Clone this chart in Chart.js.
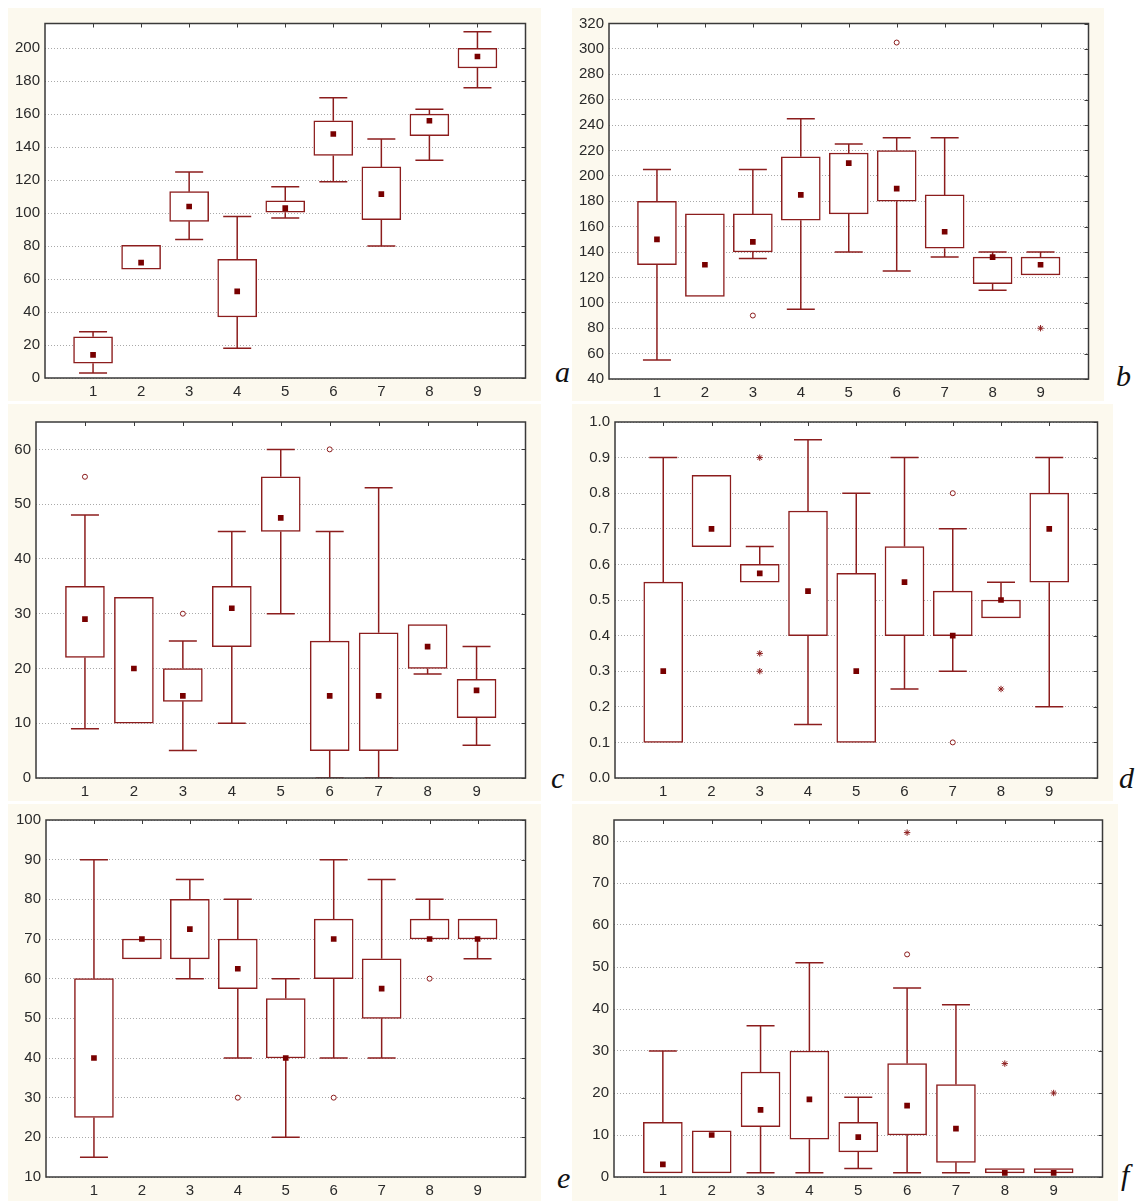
<!DOCTYPE html>
<html>
<head>
<meta charset="utf-8">
<script src="https://cdn.jsdelivr.net/npm/chart.js@4.4.1/dist/chart.umd.min.js"></script>
<style>
  body { margin: 0; background: #fff; width: 1140px; height: 1201px; position: relative; overflow: hidden; }
  .panel { position: absolute; background: #fcf9ee; }
  .panel canvas { display: block; }
  .letter { position: absolute; font-family: "Liberation Serif", "Times New Roman", serif; font-style: italic; font-size: 30px; line-height: 30px; color: #111; }
</style>
</head>
<body>

<div class="letter" style="left:555px;top:357px">a</div>
<div class="letter" style="left:1116px;top:361px">b</div>
<div class="letter" style="left:551px;top:763px">c</div>
<div class="letter" style="left:1119px;top:763px">d</div>
<div class="letter" style="left:557px;top:1163px">e</div>
<div class="letter" style="left:1121px;top:1160px">f</div>

<script>
// groups on the x axis
const groups = [1, 2, 3, 4, 5, 6, 7, 8, 9];

// panel a
const aQ1 = [9, 66, 95, 37, 100.5, 135, 96, 147, 188];
const aQ3 = [25, 80.5, 113, 72, 107.5, 156, 128, 160, 200];
const aMean = [14, 70, 104, 52.5, 103, 148, 111.5, 156, 195];
const aMin = [3, null, 84, 18, 97, 119, 80, 132, 176];
const aMax = [28, null, 125, 98, 116, 170, 145, 163, 210];
const aOutliers = [];
const aExtremes = [];

// panel b
const bQ1 = [130, 105, 140, 165, 170, 180, 143, 115, 122];
const bQ3 = [180, 170, 170, 215, 218, 220, 185, 136, 136];
const bMean = [150, 130, 148, 185, 210, 190, 156, 136, 130];
const bMin = [55, null, 135, 95, 140, 125, 136, 110, null];
const bMax = [205, null, 205, 245, 225, 230, 230, 140, 140];
const bOutliers = [[3, 90], [6, 305]];
const bExtremes = [[9, 80]];

// panel c
const cQ1 = [22, 10, 14, 24, 45, 5, 5, 20, 11];
const cQ3 = [35, 33, 20, 35, 55, 25, 26.5, 28, 18];
const cMean = [29, 20, 15, 31, 47.5, 15, 15, 24, 16];
const cMin = [9, null, 5, 10, 30, 0, 0, 19, 6];
const cMax = [48, null, 25, 45, 60, 45, 53, null, 24];
const cOutliers = [[1, 55], [3, 30], [6, 60]];
const cExtremes = [];

// panel d
const dQ1 = [0.1, 0.65, 0.55, 0.4, 0.1, 0.4, 0.4, 0.45, 0.55];
const dQ3 = [0.55, 0.85, 0.6, 0.75, 0.575, 0.65, 0.525, 0.5, 0.8];
const dMean = [0.3, 0.7, 0.575, 0.525, 0.3, 0.55, 0.4, 0.5, 0.7];
const dMin = [null, null, null, 0.15, null, 0.25, 0.3, null, 0.2];
const dMax = [0.9, null, 0.65, 0.95, 0.8, 0.9, 0.7, 0.55, 0.9];
const dOutliers = [[7, 0.8], [7, 0.1]];
const dExtremes = [[3, 0.9], [3, 0.35], [3, 0.3], [8, 0.25]];

// panel e
const eQ1 = [25, 65, 65, 57.5, 40, 60, 50, 70, 70];
const eQ3 = [60, 70, 80, 70, 55, 75, 65, 75, 75];
const eMean = [40, 70, 72.5, 62.5, 40, 70, 57.5, 70, 70];
const eMin = [15, null, 60, 40, 20, 40, 40, null, 65];
const eMax = [90, null, 85, 80, 60, 90, 85, 80, null];
const eOutliers = [[4, 30], [6, 30], [8, 60]];
const eExtremes = [];

// panel f
const fQ1 = [1, 1, 12, 9, 6, 10, 3.5, 1, 1];
const fQ3 = [13, 11, 25, 30, 13, 27, 22, 2, 2];
const fMean = [3, 10, 16, 18.5, 9.5, 17, 11.5, 1, 1];
const fMin = [null, null, 1, 1, 2, 1, 1, null, null];
const fMax = [30, null, 36, 51, 19, 45, 41, null, null];
const fOutliers = [[6, 53]];
const fExtremes = [[6, 82], [8, 27], [9, 20]];

const boxColor = "#8c1d1d";
const meanColor = "#780000";
const textColor = "#2a2a2a";
const tickFont = { family: "'Liberation Sans', Arial, sans-serif", size: 15 };

// white plot area, frame and the inward ticks on top and right
const framePlugin = {
  id: "frame",
  beforeDraw(chart) {
    const a = chart.chartArea;
    const ctx = chart.ctx;
    ctx.save();
    ctx.fillStyle = "#fff";
    ctx.fillRect(a.left, a.top, a.right - a.left, a.bottom - a.top);
    ctx.restore();
  },
  afterDraw(chart) {
    const a = chart.chartArea;
    const ctx = chart.ctx;
    const xs = chart.scales.x;
    const ys = chart.scales.y;
    ctx.save();
    ctx.strokeStyle = "#3a3a3a";
    ctx.lineWidth = 1.5;
    ctx.strokeRect(a.left, a.top, a.right - a.left, a.bottom - a.top);
    ctx.lineWidth = 1;
    ctx.beginPath();
    groups.forEach((g) => {
      const px = Math.round(xs.getPixelForValue(g)) + 0.5;
      ctx.moveTo(px, a.top);
      ctx.lineTo(px, a.top + 4);
    });
    ys.ticks.forEach((t) => {
      const py = Math.round(ys.getPixelForValue(t.value)) + 0.5;
      ctx.moveTo(a.right, py);
      ctx.lineTo(a.right - 4, py);
    });
    ctx.stroke();
    ctx.restore();
  },
};

function stemPoints(q1, q3, lo, hi) {
  let pts = [];
  groups.forEach((g, i) => {
    if (hi[i] != null) pts.push({ x: g, y: q3[i] }, { x: g, y: hi[i] }, { x: g, y: null });
    if (lo[i] != null) pts.push({ x: g, y: lo[i] }, { x: g, y: q1[i] }, { x: g, y: null });
  });
  return pts;
}

function capPoints(lo, hi) {
  let pts = [];
  groups.forEach((g, i) => {
    if (hi[i] != null) pts.push({ x: g, y: hi[i] });
    if (lo[i] != null) pts.push({ x: g, y: lo[i] });
  });
  return pts;
}

function makePanel(p) {
  const div = document.createElement("div");
  div.className = "panel";
  div.style.left = p.cream.l + "px";
  div.style.top = p.cream.t + "px";
  const canvas = document.createElement("canvas");
  const w = p.cream.r - p.cream.l;
  const h = p.cream.b - p.cream.t;
  canvas.width = w;
  canvas.height = h;
  canvas.style.width = w + "px";
  canvas.style.height = h + "px";
  div.appendChild(canvas);
  document.body.appendChild(div);

  new Chart(canvas, {
    type: "bar",
    data: {
      datasets: [
        {
          type: "scatter",
          data: groups.map((g, i) => ({ x: g, y: p.mean[i] })),
          pointStyle: "rect",
          pointRadius: 4,
          backgroundColor: meanColor,
          borderWidth: 0,
          order: 0,
        },
        {
          type: "scatter",
          data: p.outliers.map((o) => ({ x: o[0], y: o[1] })),
          pointStyle: "circle",
          pointRadius: 2.5,
          backgroundColor: "#fff",
          borderColor: boxColor,
          borderWidth: 1,
          order: 1,
        },
        {
          type: "scatter",
          data: p.extremes.map((o) => ({ x: o[0], y: o[1] })),
          pointStyle: "star",
          pointRadius: 3.2,
          borderColor: boxColor,
          borderWidth: 1,
          order: 1,
        },
        {
          type: "bar",
          data: groups.map((g, i) => ({ x: g, y: [p.q1[i], p.q3[i]] })),
          backgroundColor: "#fff",
          borderColor: boxColor,
          borderWidth: 1.5,
          borderSkipped: false,
          barThickness: 39,
          order: 2,
        },
        {
          type: "scatter",
          data: capPoints(p.min, p.max),
          pointStyle: "line",
          pointRadius: 14,
          borderColor: boxColor,
          borderWidth: 1.5,
          order: 3,
        },
        {
          type: "line",
          data: stemPoints(p.q1, p.q3, p.min, p.max),
          borderColor: boxColor,
          borderWidth: 1.5,
          pointRadius: 0,
          spanGaps: false,
          order: 4,
        },
      ],
    },
    options: {
      responsive: false,
      animation: false,
      events: [],
      layout: {
        padding: { top: p.plot.t - p.cream.t, right: p.cream.r - p.plot.r, left: 0, bottom: 0 },
      },
      plugins: { legend: { display: false }, tooltip: { enabled: false } },
      scales: {
        x: {
          type: "linear",
          offset: false,
          min: 0,
          max: 10,
          grid: { display: false, offset: false, drawTicks: false },
          border: { display: false },
          ticks: {
            stepSize: 1,
            autoSkip: false,
            maxRotation: 0,
            padding: 5,
            color: textColor,
            font: tickFont,
            callback: (v) => (v >= 1 && v <= 9 ? String(v) : ""),
          },
          afterFit: (s) => { s.height = p.cream.b - p.plot.b; },
        },
        y: {
          min: p.yMin,
          max: p.yMax,
          grid: { color: "#a9a9a9", lineWidth: 1, drawTicks: false },
          border: { display: false, dash: [1, 2] },
          ticks: {
            stepSize: p.yStep,
            includeBounds: false,
            padding: 5,
            color: textColor,
            font: tickFont,
            callback: p.fmt,
          },
          afterFit: (s) => { s.width = p.plot.l - p.cream.l; },
        },
      },
    },
    plugins: [framePlugin],
  });
}

const intFmt = (v) => String(Math.round(v));

makePanel({
  cream: { l: 8, t: 8, r: 541, b: 401 }, plot: { l: 45, t: 21, r: 537, b: 378 },
  yMin: 0, yMax: 215, yStep: 20, fmt: intFmt,
  q1: aQ1, q3: aQ3, mean: aMean, min: aMin, max: aMax, outliers: aOutliers, extremes: aExtremes,
});
makePanel({
  cream: { l: 572, t: 8, r: 1104, b: 401 }, plot: { l: 609, t: 22, r: 1100, b: 379 },
  yMin: 40, yMax: 320, yStep: 20, fmt: intFmt,
  q1: bQ1, q3: bQ3, mean: bMean, min: bMin, max: bMax, outliers: bOutliers, extremes: bExtremes,
});
makePanel({
  cream: { l: 8, t: 404, r: 541, b: 801 }, plot: { l: 36, t: 422, r: 535, b: 778 },
  yMin: 0, yMax: 65, yStep: 10, fmt: intFmt,
  q1: cQ1, q3: cQ3, mean: cMean, min: cMin, max: cMax, outliers: cOutliers, extremes: cExtremes,
});
makePanel({
  cream: { l: 572, t: 404, r: 1113, b: 801 }, plot: { l: 615, t: 422, r: 1109, b: 778 },
  yMin: 0, yMax: 1, yStep: 0.1, fmt: (v) => v.toFixed(1),
  q1: dQ1, q3: dQ3, mean: dMean, min: dMin, max: dMax, outliers: dOutliers, extremes: dExtremes,
});
makePanel({
  cream: { l: 8, t: 804, r: 541, b: 1201 }, plot: { l: 46, t: 820, r: 536, b: 1177 },
  yMin: 10, yMax: 100, yStep: 10, fmt: intFmt,
  q1: eQ1, q3: eQ3, mean: eMean, min: eMin, max: eMax, outliers: eOutliers, extremes: eExtremes,
});
makePanel({
  cream: { l: 572, t: 804, r: 1118, b: 1201 }, plot: { l: 614, t: 820, r: 1113, b: 1177 },
  yMin: 0, yMax: 85, yStep: 10, fmt: intFmt,
  q1: fQ1, q3: fQ3, mean: fMean, min: fMin, max: fMax, outliers: fOutliers, extremes: fExtremes,
});
</script>
</body>
</html>
